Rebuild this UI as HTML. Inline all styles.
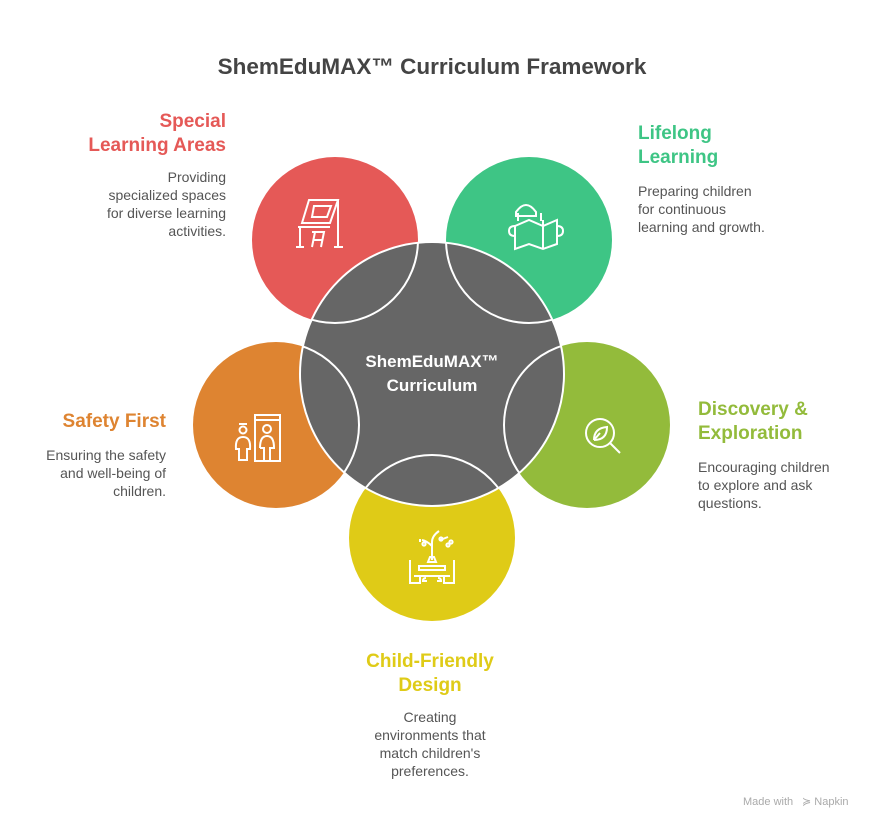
<!DOCTYPE html>
<html><head><meta charset="utf-8"><style>
html,body{margin:0;padding:0;background:#fff;}
svg{display:block;font-family:"Liberation Sans",Arial,sans-serif;}
.h{font-weight:bold;font-size:19px;}
.b{font-size:14px;fill:#555;}
</style></head><body>
<svg width="876" height="828" viewBox="0 0 876 828" xmlns="http://www.w3.org/2000/svg">
<defs><clipPath id="g"><circle cx="432" cy="374" r="132"/></clipPath></defs>
<text x="432" y="74" text-anchor="middle" font-size="22.5" font-weight="bold" fill="#444">ShemEduMAX™ Curriculum Framework</text>

<circle cx="335" cy="240" r="83" fill="#e55957"/>
<circle cx="529" cy="240" r="83" fill="#3ec585"/>
<circle cx="276" cy="425" r="83" fill="#de8431"/>
<circle cx="587" cy="425" r="83" fill="#93bb3b"/>
<circle cx="432" cy="538" r="83" fill="#dfcb17"/>
<circle cx="432" cy="374" r="132" fill="#666" stroke="#fff" stroke-width="2"/>
<g clip-path="url(#g)" fill="none" stroke="#fff" stroke-width="2">
<circle cx="335" cy="240" r="83"/><circle cx="529" cy="240" r="83"/>
<circle cx="276" cy="425" r="83"/><circle cx="587" cy="425" r="83"/>
<circle cx="432" cy="538" r="83"/>
</g>
<text x="432" y="367" text-anchor="middle" fill="#fff" font-size="17" font-weight="bold">ShemEduMAX™</text>
<text x="432" y="391" text-anchor="middle" fill="#fff" font-size="17" font-weight="bold">Curriculum</text>

<!-- icons -->
<g fill="none" stroke="#fff" stroke-width="2">
<path d="M302 223 L309 200 L338 200 L330 223 Z M314 206 L331 206 L327 217 L312 217 Z"/>
<path d="M298 227 h32 M300 227 v20 M338 200 v47 M296 247 h8 M334 247 h9 M312 232 h12 l-3 15 M315 232 l-3 15 M314 240 h8"/>
<!-- book reader -->
<path d="M536 212 q-10 -14 -20 0 v4 h20 z"/>
<path d="M522 226 l14 -6 l14 6 l14 -6 v24 l-14 5 l-14 -5 l-14 5 z" transform="translate(-7,0) scale(1,1)"/>
<path d="M543 220 v28"/>
<path d="M515 226 q-6 0 -6 5 q0 5 6 5 M557 226 q6 0 6 5 q0 5 -6 5"/>
<path d="M518 213 v8 M541 213 v8"/>
<circle cx="600" cy="433" r="14"/><path d="M610 443 l10 10 M594 440 q0 -12 13 -13 q0 13 -13 13 M594 440 l6 -7"/>
<rect x="255" y="415" width="25" height="46"/><path d="M255 420 h25"/>
<circle cx="267" cy="429" r="4"/><path d="M260 448 q0 -12 7 -12 q7 0 7 12 h-4 v13 M264 461 v-13 h-4"/>
<circle cx="243" cy="430" r="3.5"/><path d="M239 424 h8 M236 449 q-1 -12 7 -12 q8 0 7 12 h-3 v11 h-8 v-11 z"/>
<path d="M432 560 v-18 q0 -6 7 -11 M432 546 q-5 -5 -10 -6 M420 542 l0 -3 M440 540 l8 -3"/>
<circle cx="424" cy="544" r="1.6"/><circle cx="441" cy="539" r="1.6"/><circle cx="448" cy="545" r="1.6"/><circle cx="451" cy="542" r="1.6"/>
<path d="M419 566 h26 v4 h-26 z M410 560 v23 h10 v-7 M454 560 v23 h-10 v-7 M414 576 h36 M426 578 q-3 0 -3 3 h4 M438 578 q3 0 3 3 h-4 M428 562 h8 l-2 -5 h-4z"/>
</g>

<text text-anchor="end" class="h" fill="#e55957"><tspan x="226" y="127">Special</tspan><tspan x="226" y="151">Learning Areas</tspan></text>
<text text-anchor="end" class="b"><tspan x="226" y="182">Providing</tspan><tspan x="226" y="200">specialized spaces</tspan><tspan x="226" y="218">for diverse learning</tspan><tspan x="226" y="236">activities.</tspan></text>

<text class="h" fill="#3ec585"><tspan x="638" y="139">Lifelong</tspan><tspan x="638" y="163">Learning</tspan></text>
<text class="b"><tspan x="638" y="196">Preparing children</tspan><tspan x="638" y="214">for continuous</tspan><tspan x="638" y="232">learning and growth.</tspan></text>

<text text-anchor="end" class="h" fill="#de8431"><tspan x="166" y="427">Safety First</tspan></text>
<text text-anchor="end" class="b"><tspan x="166" y="460">Ensuring the safety</tspan><tspan x="166" y="478">and well-being of</tspan><tspan x="166" y="496">children.</tspan></text>

<text class="h" fill="#93bb3b"><tspan x="698" y="415">Discovery &amp;</tspan><tspan x="698" y="439">Exploration</tspan></text>
<text class="b"><tspan x="698" y="472">Encouraging children</tspan><tspan x="698" y="490">to explore and ask</tspan><tspan x="698" y="508">questions.</tspan></text>

<text text-anchor="middle" class="h" fill="#dfcb17"><tspan x="430" y="667">Child-Friendly</tspan><tspan x="430" y="691">Design</tspan></text>
<text text-anchor="middle" class="b"><tspan x="430" y="722">Creating</tspan><tspan x="430" y="740">environments that</tspan><tspan x="430" y="758">match children's</tspan><tspan x="430" y="776">preferences.</tspan></text>

<text x="743" y="805" font-size="11" fill="#aaa">Made with</text>
<text x="802" y="805" font-size="11" fill="#aaa">≽ Napkin</text>
</svg>
</body></html>
